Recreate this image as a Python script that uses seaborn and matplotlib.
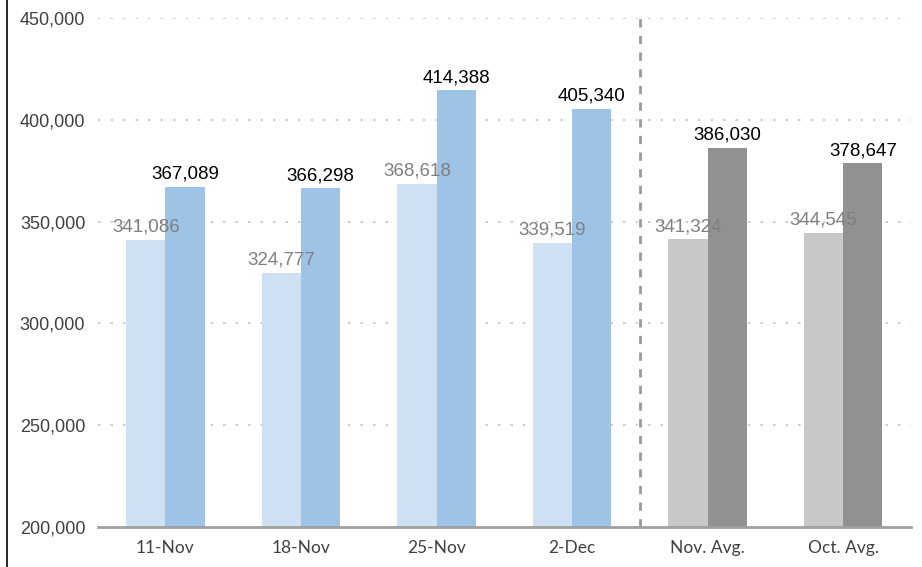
import pandas as pd
import numpy as np
import seaborn as sns
import matplotlib.pyplot as plt
from matplotlib.lines import Line2D
from matplotlib.ticker import FuncFormatter

sns.set_theme(style="white")
plt.rcParams['font.family'] = ['Liberation Sans', 'DejaVu Sans']

categories = ['11-Nov', '18-Nov', '25-Nov', '2-Dec', 'Nov. Avg.', 'Oct. Avg.']
prior = [341086, 324777, 368618, 339519, 341324, 344545]
current = [367089, 366298, 414388, 405340, 386030, 378647]

light_colors = ['#cfe0f2'] * 4 + ['#c9c8c6'] * 2
dark_colors = ['#9dc3e6'] * 4 + ['#919191'] * 2

df = pd.DataFrame({
    'Week': categories * 2,
    'Series': ['prior'] * len(categories) + ['current'] * len(categories),
    'Value': prior + current,
})

fig = plt.figure(figsize=(9.22, 5.67), dpi=100)
ax = fig.add_axes([0.106, 0.0705, 0.882, 0.898])

# gridlines behind the bars
for y in [250000, 300000, 350000, 400000, 450000]:
    ax.axhline(y, color='#c4c4c4', linestyle=(0, (1.5, 6)), lw=1.2, zorder=0)

sns.barplot(data=df, x='Week', y='Value', hue='Series', order=categories,
            hue_order=['prior', 'current'], width=0.58, gap=0,
            palette=['#cfe0f2', '#9dc3e6'], legend=False, ax=ax,
            saturation=1, zorder=2)

light_bars, dark_bars = ax.containers[0], ax.containers[1]
for bar, c in zip(light_bars, light_colors):
    bar.set_facecolor(c)
    bar.set_edgecolor('none')
for bar, c in zip(dark_bars, dark_colors):
    bar.set_facecolor(c)
    bar.set_edgecolor('none')

ax.bar_label(light_bars, labels=[f'{v:,}' for v in prior], padding=3,
             color='#7f7f7f', fontsize=13.5, zorder=5)
ax.bar_label(dark_bars, labels=[f'{v:,}' for v in current], padding=3,
             color='#000000', fontsize=13.5, zorder=5)

ax.set_ylim(200000, 450000)
ax.set_xlim(-0.5, 5.5)
ax.set_yticks([200000, 250000, 300000, 350000, 400000, 450000])
ax.yaxis.set_major_formatter(FuncFormatter(lambda v, p: f'{int(v):,}'))
ax.tick_params(axis='y', length=0, labelsize=13, labelcolor='#404040', pad=9)

# x ticks: marks at group boundaries, labels at centers
ax.set_xticks([0.5, 1.5, 2.5, 3.5, 4.5])
ax.set_xticklabels([])
ax.set_xticks(range(len(categories)), minor=True)
ax.set_xticklabels(categories, minor=True, fontfamily='Lato', fontsize=12.5,
                   color='#404040')
ax.tick_params(axis='x', which='major', direction='out', length=5, width=2,
               color='#a0a0a0')
ax.tick_params(axis='x', which='minor', length=0, pad=9)
ax.set_xlabel('')
ax.set_ylabel('')

for side in ['top', 'right', 'left']:
    ax.spines[side].set_visible(False)
ax.spines['bottom'].set_color('#a0a0a0')
ax.spines['bottom'].set_linewidth(2)
ax.spines['bottom'].set_zorder(4)

# dashed separator between weekly and average groups
ax.axvline(3.5, color='#999999', linestyle=(0, (3, 3)), lw=2, zorder=3)

# left frame line
fig.add_artist(Line2D([0.0076, 0.0076], [0, 1], color='black', lw=1.2))

fig.savefig('out.png', dpi=100)
